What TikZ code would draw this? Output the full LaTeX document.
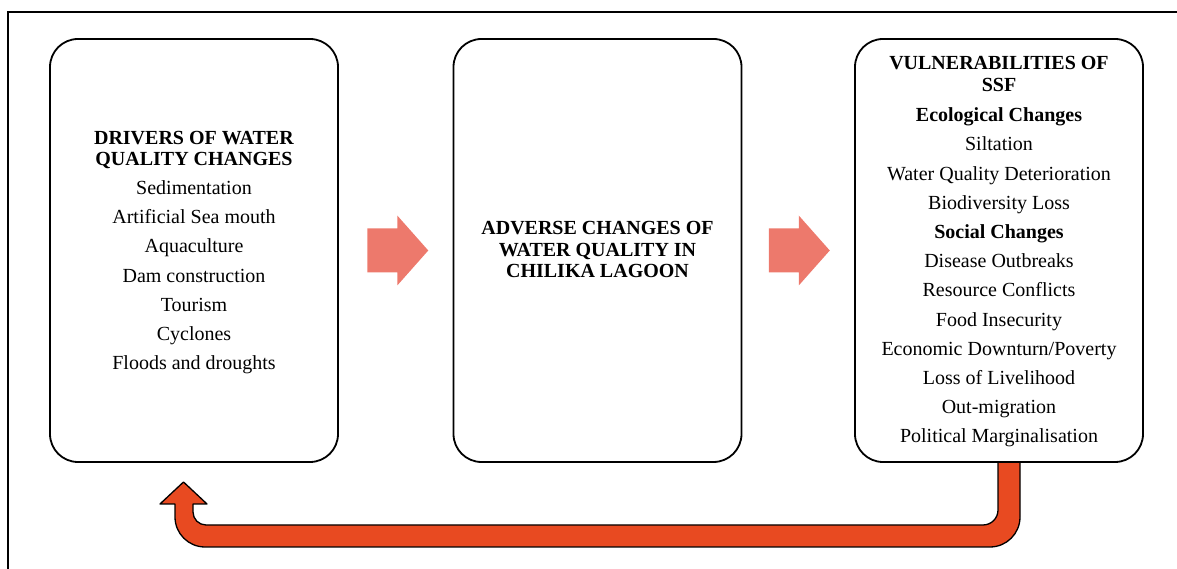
\documentclass[tikz,border=0pt]{standalone}
\usepackage{fontspec}
\setmainfont{Liberation Serif}
\usetikzlibrary{calc,backgrounds}
\definecolor{flowarrow}{RGB}{237,121,108}
\definecolor{loopfill}{RGB}{232,74,33}
\begin{document}
\begin{tikzpicture}[x=1bp,y=1bp,
  panel/.style={draw=black, line width=1.8bp, fill=white, rounded corners=28bp,
    minimum width=288bp, minimum height=423bp, inner sep=0pt, align=center,
    font=\fontsize{20bp}{29.2bp}\selectfont},
  flow/.style={fill=flowarrow, draw=none},
  loopback/.style={fill=loopfill, draw=black, line width=1.3bp, line join=round}]
\useasboundingbox (0,0) rectangle (1177,569);
\draw[line width=2bp] (7.5,0) -- (7.5,557) -- (1177,557);

% the three panels (struts fine-tune the vertical placement of the text)
\node[panel] (drv) at (194,318.5) {%
  \rule{0pt}{17bp}\textbf{DRIVERS OF WATER}\\[-8bp]
  \textbf{QUALITY CHANGES}\\
  Sedimentation\\
  Artificial Sea mouth\\
  Aquaculture\\
  Dam construction\\
  Tourism\\
  Cyclones\\
  Floods and droughts};

\node[panel] (adv) at (597.5,318.5) {%
  \textbf{ADVERSE CHANGES OF}\\[-8bp]
  \textbf{WATER QUALITY IN}\\[-8bp]
  \textbf{CHILIKA LAGOON}\rule[-2bp]{0pt}{2bp}};

\node[panel] (vul) at (999,318.5) {%
  \rule{0pt}{16bp}\textbf{VULNERABILITIES OF}\\[-7.5bp]
  \textbf{SSF}\\[1bp]
  \textbf{Ecological Changes}\\
  Siltation\\
  Water Quality Deterioration\\
  Biodiversity Loss\\
  \textbf{Social Changes}\\
  Disease Outbreaks\\
  Resource Conflicts\\
  Food Insecurity\\
  Economic Downturn/Poverty\\
  Loss of Livelihood\\
  Out-migration\\
  Political Marginalisation};

% block arrows between the panels
\coordinate (m1) at ($(drv.east)!0.5!(adv.west)$);
\coordinate (m2) at ($(adv.east)!0.5!(vul.west)$);
\fill[flow] ($(m1)+(-28.5,22)$) -- ++(30,0) -- ++(0,13) -- ($(m1)+(32.5,0)$)
  -- ($(m1)+(1.5,-35)$) -- ++(0,13) -- ++(-30,0) -- cycle;
\fill[flow] ($(m2)+(-29.5,22)$) -- ++(30,0) -- ++(0,13) -- ($(m2)+(31.5,0)$)
  -- ($(m2)+(0.5,-35)$) -- ++(0,13) -- ++(-30,0) -- cycle;

% feedback arrow from the vulnerabilities back to the drivers
\begin{scope}[on background layer]
\draw[loopback] let \p1=(vul.south), \p2=(drv.south) in
  ({\x1-1bp},{\y1+4bp}) -- ({\x1-1bp},{59bp})
  arc[start angle=0,end angle=-90,radius=15bp]
  -- ({\x2+12bp},{44bp})
  arc[start angle=270,end angle=180,radius=13bp]
  -- ({\x2-1bp},{65bp}) -- ({\x2+13bp},{65bp}) -- ({\x2-10.5bp},{87bp})
  -- ({\x2-34bp},{65bp}) -- ({\x2-19bp},{65bp}) -- ({\x2-19bp},{52bp})
  arc[start angle=180,end angle=270,radius=30bp]
  -- ({\x1-9bp},{22bp})
  arc[start angle=270,end angle=360,radius=30bp]
  -- ({\x1+21bp},{\y1+4bp}) -- cycle;
\end{scope}
\end{tikzpicture}
\end{document}
